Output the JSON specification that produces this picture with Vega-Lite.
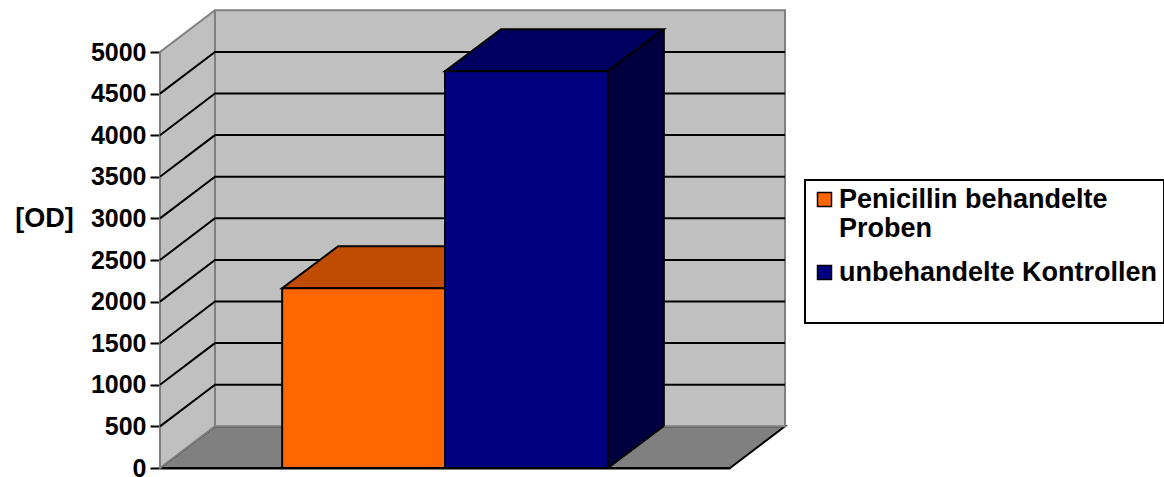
{
  "$schema": "https://vega.github.io/schema/vega-lite/v6.json",
  "width": 570,
  "height": 416,
  "autosize": {"type": "none"},
  "padding": {"left": 160, "top": 52, "right": 434, "bottom": 9},
  "background": "white",
  "config": {
    "font": "Liberation Sans",
    "view": {"stroke": null},
    "axis": {"zindex": 1, "grid": false, "domainColor": "black", "domainWidth": 2, "tickColor": "black", "tickWidth": 2, "labelColor": "black", "titleColor": "black"},
    "axisY": {"labelFontSize": 25, "labelFontWeight": "bold", "tickSize": 10, "labelPadding": 4, "titleFontSize": 27, "titleFontWeight": "bold", "titleAngle": 0, "titleX": -116, "titleY": 166, "titleAlign": "center", "titleBaseline": "middle"},
    "legend": {"strokeWidth": 2}
  },
  "datasets": {
    "bars": [
      {"series": "Penicillin behandelte Proben", "value": 2160},
      {"series": "unbehandelte Kontrollen", "value": 4770}
    ],
    "ticks": [
      {"v": 500}, {"v": 1000}, {"v": 1500}, {"v": 2000}, {"v": 2500},
      {"v": 3000}, {"v": 3500}, {"v": 4000}, {"v": 4500}
    ],
    "frame": [{"part": "chart"}]
  },
  "data": {"name": "bars"},
  "layer": [
    {
      "data": {"name": "frame"},
      "mark": {"type": "point", "shape": "M-285,0L285,0L340,-41.7L-230,-41.7Z", "size": 4, "filled": true, "fill": "#808080", "stroke": "black", "strokeWidth": 2, "opacity": 1},
      "encoding": {"y": {"datum": 0, "type": "quantitative", "title": "[OD]"}}
    },
    {
      "data": {"name": "frame"},
      "mark": {"type": "point", "shape": "M-285,0L-285,-416L-230,-457.7L340,-457.7L340,-41.7L-230,-41.7ZM-230,-457.7L-230,-41.7", "size": 4, "filled": true, "fill": "#C0C0C0", "stroke": "#808080", "strokeWidth": 2, "opacity": 1},
      "encoding": {"y": {"datum": 0, "type": "quantitative", "title": "[OD]"}}
    },
    {
      "data": {"name": "ticks"},
      "mark": {"type": "point", "shape": "M-285,0L-230,-41.7L340,-41.7", "size": 4, "filled": false, "color": "black", "fill": "transparent", "strokeWidth": 2, "opacity": 1},
      "encoding": {"y": {"field": "v", "type": "quantitative", "title": "[OD]"}}
    },
    {
      "mark": {"type": "rule", "strokeWidth": 56, "xOffset": 109.43, "yOffset": -42, "y2Offset": -42},
      "encoding": {
        "x": {"field": "series", "type": "nominal", "title": null},
        "y": {"field": "value", "type": "quantitative", "title": "[OD]"},
        "y2": {"datum": 0},
        "color": {"condition": {"test": "datum.series === 'unbehandelte Kontrollen'", "value": "#000040"}, "value": "#7F3300"}
      }
    },
    {
      "mark": {"type": "point", "shape": "M81.43,0L81.43,-42L137.43,-42Z", "size": 4, "filled": true, "strokeWidth": 0, "opacity": 1},
      "encoding": {
        "x": {"field": "series", "type": "nominal", "title": null},
        "y": {"datum": 0, "type": "quantitative", "title": "[OD]"},
        "color": {"condition": {"test": "datum.series === 'unbehandelte Kontrollen'", "value": "#000040"}, "value": "#7F3300"}
      }
    },
    {
      "mark": {"type": "point", "shape": "M-81.43,0L81.43,0L137.43,-42L-25.43,-42Z", "size": 4, "filled": true, "stroke": "black", "strokeWidth": 2, "opacity": 1},
      "encoding": {
        "x": {"field": "series", "type": "nominal", "title": null},
        "y": {"field": "value", "type": "quantitative", "title": "[OD]"},
        "color": {"condition": {"test": "datum.series === 'unbehandelte Kontrollen'", "value": "#000060"}, "value": "#BF4C00"}
      }
    },
    {
      "mark": {"type": "rule", "color": "black", "strokeWidth": 2, "xOffset": 137.43, "yOffset": -42, "y2Offset": -42},
      "encoding": {
        "x": {"field": "series", "type": "nominal", "title": null},
        "y": {"field": "value", "type": "quantitative", "title": "[OD]"},
        "y2": {"datum": 0}
      }
    },
    {
      "mark": {"type": "point", "shape": "M81.43,0L137.43,-42", "size": 4, "filled": false, "color": "black", "fill": "transparent", "strokeWidth": 2, "opacity": 1},
      "encoding": {
        "x": {"field": "series", "type": "nominal", "title": null},
        "y": {"datum": 0, "type": "quantitative", "title": "[OD]"}
      }
    },
    {
      "mark": {"type": "bar", "stroke": "black", "strokeWidth": 2, "opacity": 1},
      "encoding": {
        "x": {"field": "series", "type": "nominal", "title": null,
              "scale": {"paddingInner": 0, "paddingOuter": 0.75},
              "axis": {"labels": false, "ticks": false, "title": null}},
        "y": {"field": "value", "type": "quantitative", "title": "[OD]",
              "scale": {"domain": [0, 5000], "nice": false},
              "axis": {"format": "d", "values": [0, 500, 1000, 1500, 2000, 2500, 3000, 3500, 4000, 4500, 5000]}},
        "color": {"field": "series", "type": "nominal",
                  "scale": {"domain": ["Penicillin behandelte Proben", "unbehandelte Kontrollen"], "range": ["#FF6600", "#000080"]},
                  "legend": {"orient": "none", "legendX": 645, "legendY": 128,
                             "title": " ", "titleOrient": "bottom", "titleFontSize": 20, "titlePadding": 11,
                             "labelFontSize": 27, "labelFontWeight": "bold", "labelColor": "black", "labelLimit": 500,
                             "labelExpr": "datum.label == 'Penicillin behandelte Proben' ? ['Penicillin behandelte', 'Proben'] : datum.label",
                             "symbolType": "square", "symbolSize": 196, "symbolStrokeColor": "black", "symbolStrokeWidth": 1.5,
                             "strokeColor": "black", "fillColor": "white", "padding": 6, "labelOffset": 1, "rowPadding": 16}}
      }
    }
  ]
}
